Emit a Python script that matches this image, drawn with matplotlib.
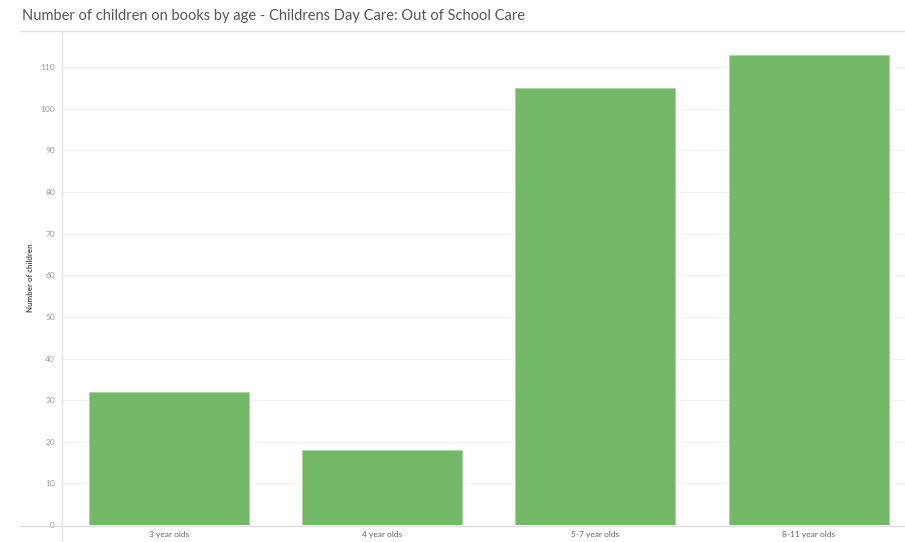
import matplotlib.pyplot as plt
from matplotlib.lines import Line2D

categories = ['3 year olds', '4 year olds', '5-7 year olds', '8-11 year olds']
children = [32, 18, 105, 113]
y_ticks = [0, 10, 20, 30, 40, 50, 60, 70, 80, 90, 100, 110]

W, H = 905, 542
fig = plt.figure(figsize=(W / 100, H / 100), dpi=100)
plt.rcParams['font.family'] = ['Lato', 'DejaVu Sans']

left, right, bottom, top = 62, 905, 525, 31
ax = fig.add_axes([left / W, 1 - bottom / H, (right - left) / W, (bottom - top) / H])

x = list(range(len(categories)))
ax.bar(x, children, width=0.75, color='#72b866', edgecolor='#a9d6a0', linewidth=0.6, zorder=2)

ax.set_xlim(-0.5, (right - left) / 213.3 - 0.5)
ax.set_ylim(0, 118.7)
ax.set_yticks(y_ticks)
ax.set_yticklabels([str(v) for v in y_ticks], fontsize=6, color='#9a9a9a')
ax.set_xticks(x)
ax.set_xticklabels(categories, fontsize=6, color='#666666')
ax.tick_params(axis='both', length=0, pad=5)
ax.tick_params(axis='x', pad=4)
ax.yaxis.grid(True, color='#f1f1f1', linewidth=0.8, zorder=0)
ax.set_axisbelow(True)
for s in ax.spines.values():
    s.set_visible(False)

ax.set_ylabel('Number of children', fontsize=5.8, color='#444444', fontweight='semibold')
ax.yaxis.set_label_coords((34 - left) / (right - left), 0.5)

# frame lines: top rule, baseline and y axis line
fig.add_artist(Line2D([20 / W, 1], [1 - 31 / H] * 2, color='#e3e3e3', linewidth=1))
fig.add_artist(Line2D([20 / W, 1], [1 - 525.5 / H] * 2, color='#dcdcdc', linewidth=1))
fig.add_artist(Line2D([left / W] * 2, [0, 1 - 31 / H], color='#e3e3e3', linewidth=1))

fig.text(22 / W, 1 - 16 / H, 'Number of children on books by age - Childrens Day Care: Out of School Care',
         fontsize=10.5, color='#555555', va='center', ha='left')

fig.savefig('out.png', dpi=100)
